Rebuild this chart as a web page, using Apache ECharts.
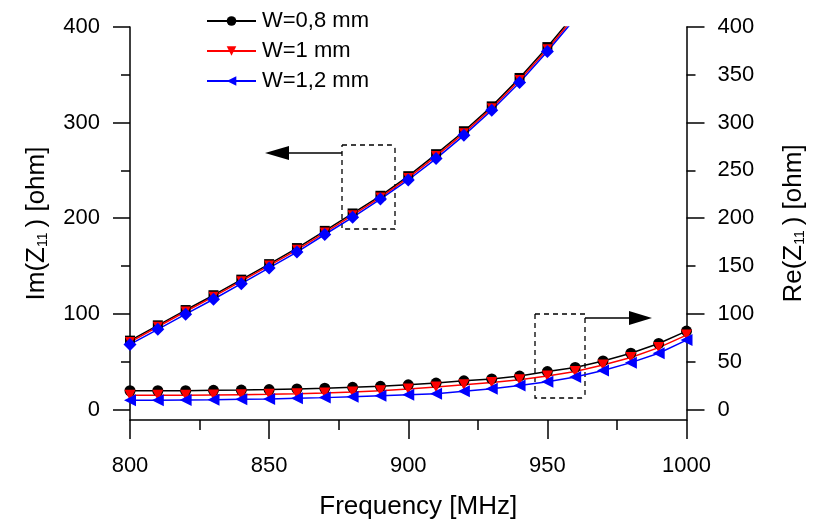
<!DOCTYPE html>
<html>
<head>
<meta charset="utf-8">
<script src="https://cdn.jsdelivr.net/npm/echarts@6/dist/echarts.min.js"></script>
<style>
  html, body { margin: 0; padding: 0; background: #fff; }
  #chart { width: 819px; height: 525px; }
</style>
</head>
<body>
<div id="chart"></div>
<script>
// frequency (MHz)
var freq = [800, 810, 820, 830, 840, 850, 860, 870, 880, 890, 900,
            910, 920, 930, 940, 950, 960, 970, 980, 990, 1000];
var freqIm = [800, 810, 820, 830, 840, 850, 860, 870, 880, 890, 900,
              910, 920, 930, 940, 950, 960];

// Re(Z11) [ohm]
var re08 = [19.6, 19.6, 19.6, 20.0, 20.3, 20.8, 21.5, 22.2, 23.2, 24.2, 25.8,
            27.6, 30.0, 32.0, 35.0, 39.7, 44.0, 50.8, 58.8, 69.0, 82.0];
var re10 = [14.8, 14.8, 14.8, 15.2, 15.5, 15.9, 16.5, 17.2, 18.2, 19.6, 21.5,
            23.5, 25.8, 28.3, 31.0, 35.0, 39.7, 46.6, 54.3, 64.7, 77.8];
var re12 = [9.6, 9.6, 10.0, 10.3, 10.7, 11.0, 11.7, 12.4, 13.4, 14.4, 15.4,
            16.5, 19.0, 21.7, 25.0, 29.0, 34.0, 40.8, 49.0, 58.8, 72.6];

// Im(Z11) [ohm]
var im08 = [72, 88, 104, 119.5, 135.8, 152, 168.8, 186.8, 205, 223.5, 244,
            267, 291, 317, 346.7, 379, 414];
var im10 = [70.5, 86.5, 102.5, 118, 134.2, 150.5, 167, 185, 203.2, 221.8, 242.2,
            265, 289, 315, 344.5, 376.8, 411.5];
var im12 = [68, 83.8, 99.7, 115.3, 131.6, 148, 164.6, 183, 201, 220, 240,
            262.4, 286.7, 313, 342, 374.4, 409];

var names = ['W=0,8 mm', 'W=1 mm', 'W=1,2 mm'];
var leftLabels = [0, 100, 200, 300, 400];
var leftMinor = [50, 150, 250, 350];
var rightLabels = [0, 50, 100, 150, 200, 250, 300, 350, 400];
var rightMajor = [0, 100, 200, 300, 400];
var rightMinor = [50, 150, 250, 350];

var FONT = 'Liberation Sans, Arial, sans-serif';
var downTri = 'path://M0,0 L10,0 L5,10 Z';
var leftTri = 'path://M0,5 L10,0 L10,10 Z';

function pairs(xs, ys) {
  var out = [];
  for (var i = 0; i < ys.length; i++) out.push([xs[i], ys[i]]);
  return out;
}

function mkSeries(name, data, color, symbol, size, yIdx) {
  return {
    name: name,
    type: 'line',
    xAxisIndex: 0,
    yAxisIndex: yIdx,
    data: data,
    symbol: symbol,
    symbolSize: size,
    showSymbol: true,
    clip: true,
    lineStyle: { color: color, width: 1.5 },
    itemStyle: { color: color },
    emphasis: { disabled: true },
    animation: false
  };
}

var chart = echarts.init(document.getElementById('chart'));
var axisLineStyle = { color: '#000', width: 1.5 };
var subStyle = { sub: { fontFamily: FONT, fontSize: 14, color: '#000', padding: [13, 5, 0, 0] } };

chart.setOption({
  backgroundColor: '#fff',
  animation: false,
  grid: { left: 130, right: 132.5, top: 27, bottom: 103 },
  legend: {
    orient: 'vertical',
    left: 201,
    top: 5,
    itemWidth: 49,
    itemHeight: 12,
    itemGap: 8,
    data: names,
    textStyle: { fontFamily: FONT, fontSize: 22, color: '#000', padding: [0, 0, 0, 1] }
  },
  xAxis: {
    type: 'value',
    min: 800,
    max: 1000,
    interval: 50,
    name: 'Frequency [MHz]',
    nameLocation: 'middle',
    nameGap: 74,
    nameTextStyle: { fontFamily: FONT, fontSize: 26, color: '#000', padding: [0, 0, 0, 20] },
    axisLine: { onZero: false, lineStyle: axisLineStyle },
    axisTick: { inside: false, length: 19, lineStyle: axisLineStyle },
    minorTick: { show: true, splitNumber: 2, length: 10, lineStyle: axisLineStyle },
    axisLabel: {
      margin: 35, fontFamily: FONT, fontSize: 22, color: '#000',
      formatter: function (v) { return String(v); }
    },
    splitLine: { show: false }
  },
  yAxis: [
    {
      type: 'value',
      position: 'left',
      min: -11,
      max: 400,
      name: 'Im(Z{sub|11}) [ohm]',
      nameLocation: 'middle',
      nameRotate: 90,
      nameGap: 80,
      nameTextStyle: { fontFamily: FONT, fontSize: 26, color: '#000', rich: subStyle },
      axisLine: { show: true, onZero: false, lineStyle: axisLineStyle },
      axisTick: { show: true, length: 17, customValues: leftLabels, lineStyle: axisLineStyle },
      axisLabel: { margin: 30, fontFamily: FONT, fontSize: 22, color: '#000', customValues: leftLabels },
      splitLine: { show: false }
    },
    {
      type: 'value',
      position: 'right',
      min: -11,
      max: 400,
      name: 'Re(Z{sub|11}) [ohm]',
      nameLocation: 'middle',
      nameRotate: 90,
      nameGap: 94,
      nameTextStyle: { fontFamily: FONT, fontSize: 26, color: '#000', rich: subStyle },
      axisLine: { show: true, onZero: false, lineStyle: axisLineStyle },
      axisTick: { show: true, length: 18, customValues: rightMajor, lineStyle: axisLineStyle },
      axisLabel: { margin: 31, fontFamily: FONT, fontSize: 22, color: '#000', customValues: rightLabels },
      splitLine: { show: false }
    },
    {
      // left minor ticks
      type: 'value',
      position: 'left',
      min: -11,
      max: 400,
      axisLine: { show: false, onZero: false },
      axisTick: { show: true, length: 9, customValues: leftMinor, lineStyle: axisLineStyle },
      axisLabel: { show: false },
      splitLine: { show: false }
    },
    {
      // right minor ticks
      type: 'value',
      position: 'right',
      min: -11,
      max: 400,
      axisLine: { show: false, onZero: false },
      axisTick: { show: true, length: 9, customValues: rightMinor, lineStyle: axisLineStyle },
      axisLabel: { show: false },
      splitLine: { show: false }
    }
  ],
  series: [
    mkSeries(names[0], pairs(freq, re08), '#000000', 'circle', 11, 1),
    mkSeries(names[1], pairs(freq, re10), '#ff0000', downTri, 11, 1),
    mkSeries(names[2], pairs(freq, re12), '#0000ff', leftTri, 12, 1),
    mkSeries(names[0], pairs(freqIm, im08), '#000000', 'rect', 10, 0),
    mkSeries(names[1], pairs(freqIm, im10), '#ff0000', downTri, 10, 0),
    mkSeries(names[2], pairs(freqIm, im12), '#0000ff', 'diamond', 13, 0)
  ],
  graphic: [
    // box + arrow pointing to left axis
    { type: 'rect', shape: { x: 342, y: 145, width: 53, height: 84, r: [0, 4, 0, 0] },
      style: { fill: 'none', stroke: '#000', lineWidth: 1.3, lineDash: [5, 4] } },
    { type: 'line', shape: { x1: 342, y1: 153, x2: 286, y2: 153 },
      style: { stroke: '#000', lineWidth: 1.3 } },
    { type: 'polygon', shape: { points: [[265, 153], [289, 146], [289, 160]] },
      style: { fill: '#000' } },
    // box + arrow pointing to right axis
    { type: 'rect', shape: { x: 535, y: 314, width: 50, height: 84, r: [0, 0, 4, 0] },
      style: { fill: 'none', stroke: '#000', lineWidth: 1.3, lineDash: [5, 4] } },
    { type: 'line', shape: { x1: 585, y1: 318, x2: 632, y2: 318 },
      style: { stroke: '#000', lineWidth: 1.3 } },
    { type: 'polygon', shape: { points: [[652, 318], [629, 311], [629, 325]] },
      style: { fill: '#000' } }
  ]
});
</script>
</body>
</html>
